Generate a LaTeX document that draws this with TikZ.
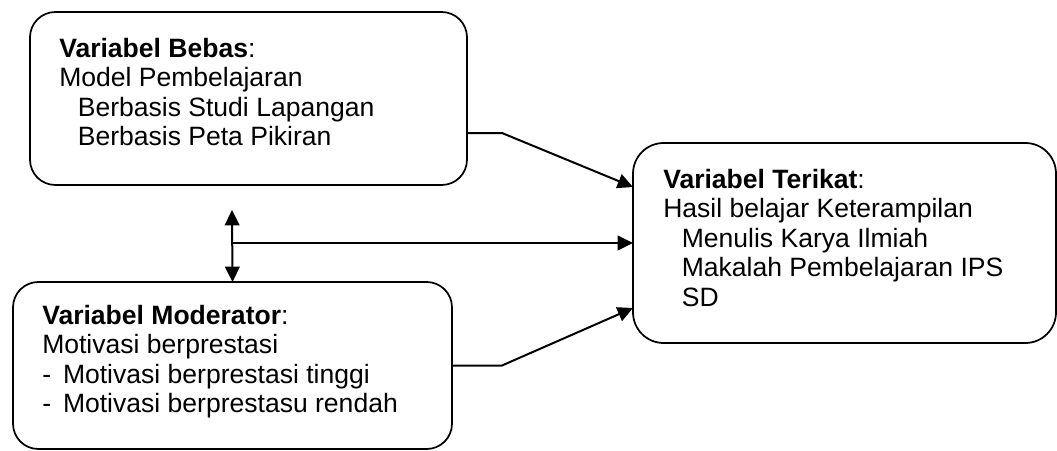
\documentclass[tikz,border=0pt]{standalone}
\usepackage{fontspec}
\setmainfont{Liberation Sans}
\usetikzlibrary{positioning}
\usetikzlibrary{arrows.meta}

\begin{document}
\begin{tikzpicture}[x=0.75pt,y=-0.75pt,>={Triangle[length=11.5pt,width=11pt]},
	box/.style={draw=black,line width=1.3pt,rounded corners=19pt,outer sep=0pt,inner sep=0pt},
	txt/.style={align=left,inner sep=0pt,font=\fontsize{19.9pt}{22.1pt}\selectfont},
	link/.style={line width=1.5pt}]
	\useasboundingbox (0,0) rectangle (1057,450);

	\node [box,minimum width=327.75pt,minimum height=129.75pt] at (248.5,98.5) (bebas_box) {};
	\node [txt,below right=19.5pt and 21.75pt of bebas_box.north west] (bebas_txt) {\textbf{Variabel Bebas}:\\Model Pembelajaran\\\hspace*{.7em}Berbasis Studi Lapangan\\\hspace*{.7em}Berbasis Peta Pikiran};

	\node [box,minimum width=329.25pt,minimum height=125.25pt] at (232.5,365.5) (moderator_box) {};
	\node [txt,below right=17.25pt and 21.75pt of moderator_box.north west] (moderator_txt) {\textbf{Variabel Moderator}:\\Motivasi berprestasi\\-\hspace*{.45em}Motivasi berprestasi tinggi\\-\hspace*{.45em}Motivasi berprestasu rendah};

	\node [box,rounded corners=23pt,minimum width=317.25pt,minimum height=150pt] at (844.5,243) (terikat_box) {};
	\node [txt,below right=19.5pt and 22.5pt of terikat_box.north west] (terikat_txt) {\textbf{Variabel Terikat}:\\Hasil belajar Keterampilan\\\hspace*{.7em}Menulis Karya Ilmiah\\\hspace*{.7em}Makalah Pembelajaran IPS\\\hspace*{.7em}SD};

	\coordinate (bebas_bend) at (502,133);
	\coordinate (moderator_bend) at (502,365.5);
	\coordinate (moderator_tip) at (232,210);

	\draw[->,link] ([yshift=39pt]bebas_box.south east) -- (bebas_bend) -- ([yshift=-33pt]terikat_box.north west);
	\draw[<->,link] (moderator_tip) -- (moderator_box.north);
	\draw[->,link] (moderator_tip |- terikat_box.west) -- (terikat_box.west);
	\draw[->,link] (moderator_box.east) -- (moderator_bend) -- ([yshift=26.25pt]terikat_box.south west);
\end{tikzpicture}
\end{document}
